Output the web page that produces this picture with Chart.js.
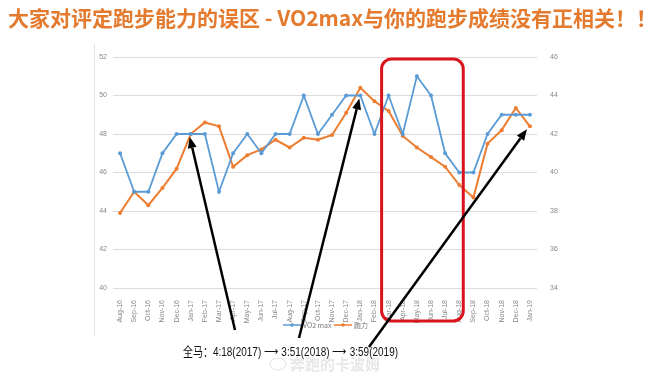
<!DOCTYPE html>
<html>
<head>
<meta charset="utf-8">
<script src="https://cdn.jsdelivr.net/npm/chart.js@4/dist/chart.umd.min.js"></script>
<style>
  html, body { margin: 0; padding: 0; background: #fff; }
  #wrap { width: 672px; height: 378px; }
</style>
</head>
<body>
<div id="wrap"><canvas id="c" width="672" height="378"></canvas></div>
<script>
const months = ['Aug-16','Sep-16','Oct-16','Nov-16','Dec-16','Jan-17','Feb-17','Mar-17','Apr-17','May-17','Jun-17','Jul-17','Aug-17','Sep-17','Oct-17','Nov-17','Dec-17','Jan-18','Feb-18','Mar-18','Apr-18','May-18','Jun-18','Jul-18','Aug-18','Sep-18','Oct-18','Nov-18','Dec-18','Jan-19'];
const vo2max = [47,45,45,47,48,48,48,45,47,48,47,48,48,50,48,49,50,50,48,50,48,51,50,47,46,46,48,49,49,49];
const paoli = [37.9,39.0,38.3,39.2,40.2,42.0,42.6,42.4,40.3,40.9,41.2,41.7,41.3,41.8,41.7,41.95,43.1,44.4,43.7,43.2,41.9,41.3,40.8,40.3,39.35,38.7,41.5,42.2,43.35,42.4];
const leftTicks = [40, 42, 44, 46, 48, 50, 52];
const rightTicks = [34, 36, 38, 40, 42, 44, 46];

const titleText = '大家对评定跑步能力的误区 - VO2max与你的跑步成绩没有正相关！！';
const noteText = '全马：4:18(2017) ⟶ 3:51(2018) ⟶ 3:59(2019)';

const BLUE = '#5b9bd5';
const ORANGE = '#ed7d31';

function arrow(ctx, x1, y1, x2, y2) {
  const a = Math.atan2(y2 - y1, x2 - x1);
  const len = 11, w = 4.5;
  const bx = x2 - len * Math.cos(a), by = y2 - len * Math.sin(a);
  ctx.beginPath();
  ctx.moveTo(x1, y1);
  ctx.lineTo(bx, by);
  ctx.lineWidth = 2.5;
  ctx.strokeStyle = '#000';
  ctx.stroke();
  ctx.beginPath();
  ctx.moveTo(x2, y2);
  ctx.lineTo(bx + w * Math.sin(a), by - w * Math.cos(a));
  ctx.lineTo(bx - w * Math.sin(a), by + w * Math.cos(a));
  ctx.closePath();
  ctx.fillStyle = '#000';
  ctx.fill();
}

const extras = {
  id: 'extras',
  beforeDraw(chart) {
    const ctx = chart.ctx;
    ctx.save();
    ctx.fillStyle = '#fff';
    ctx.fillRect(0, 0, chart.width, chart.height);
    ctx.strokeStyle = '#e3e3e3';
    ctx.lineWidth = 1;
    ctx.beginPath();
    ctx.moveTo(94.5, 44);
    ctx.lineTo(94.5, 336);
    ctx.stroke();
    ctx.restore();
  },
  afterDraw(chart) {
    const ctx = chart.ctx;
    const x = chart.scales.x, yl = chart.scales.y, yr = chart.scales.y1;
    ctx.save();

    // title
    ctx.fillStyle = '#e47a2e';
    ctx.font = 'bold 21px "Noto Sans CJK SC", sans-serif';
    ctx.textBaseline = 'middle';
    ctx.textAlign = 'left';
    ctx.fillText(titleText, 8, 18, 657);

    // legend
    ctx.font = '7px "Noto Sans CJK SC", sans-serif';
    ctx.textBaseline = 'middle';
    const ly = 325;
    [[BLUE, 'VO2 max', 283], [ORANGE, '跑力', 334]].forEach(([col, txt, lx]) => {
      ctx.strokeStyle = col;
      ctx.lineWidth = 1.5;
      ctx.beginPath(); ctx.moveTo(lx, ly); ctx.lineTo(lx + 18, ly); ctx.stroke();
      ctx.fillStyle = col;
      ctx.beginPath(); ctx.arc(lx + 9, ly, 1.8, 0, Math.PI * 2); ctx.fill();
      ctx.fillStyle = '#777';
      ctx.fillText(txt, lx + 20, ly);
    });

    // red highlight box around Mar-18 .. Aug-18
    const rx1 = x.getPixelForValue(19) - 7, rx2 = x.getPixelForValue(24) + 4;
    const ry1 = 59, ry2 = 321;
    ctx.strokeStyle = '#d9141c';
    ctx.lineWidth = 3;
    ctx.beginPath();
    ctx.roundRect(rx1, ry1, rx2 - rx1, ry2 - ry1, 10);
    ctx.stroke();

    // arrows to marathon points
    arrow(ctx, 235, 330, x.getPixelForValue(5) - 1, yr.getPixelForValue(paoli[5]) + 3);
    arrow(ctx, 299, 338, x.getPixelForValue(17) - 1, yl.getPixelForValue(vo2max[17]) + 3);
    arrow(ctx, 369, 347, x.getPixelForValue(29) - 3, yr.getPixelForValue(paoli[29]) + 3);

    // watermark
    ctx.fillStyle = 'rgba(170,170,170,0.28)';
    ctx.font = 'bold 15px "Noto Sans CJK SC", sans-serif';
    ctx.fillText('奔跑的卡波姆', 290, 364, 110);
    ctx.strokeStyle = 'rgba(170,170,170,0.35)';
    ctx.lineWidth = 1;
    ctx.beginPath(); ctx.ellipse(278, 364, 8, 6, 0, 0, Math.PI * 2); ctx.stroke();

    // note
    ctx.fillStyle = '#111';
    ctx.font = '13px "Liberation Sans", "Noto Sans CJK SC", sans-serif';
    ctx.textAlign = 'left';
    ctx.fillText(noteText, 183, 352, 215);
    ctx.restore();
  }
};

new Chart(document.getElementById('c'), {
  type: 'line',
  data: {
    labels: months,
    datasets: [
      {
        label: 'VO2 max',
        data: vo2max,
        yAxisID: 'y',
        borderColor: BLUE,
        backgroundColor: BLUE,
        borderWidth: 1.8,
        pointRadius: 2,
        pointBorderWidth: 0,
        tension: 0
      },
      {
        label: '跑力',
        data: paoli,
        yAxisID: 'y1',
        borderColor: ORANGE,
        backgroundColor: ORANGE,
        borderWidth: 2,
        pointRadius: 2,
        pointBorderWidth: 0,
        tension: 0
      }
    ]
  },
  options: {
    responsive: false,
    animation: false,
    layout: { padding: { left: 95, right: 112, top: 57, bottom: 48 } },
    plugins: {
      legend: { display: false },
      tooltip: { enabled: false }
    },
    scales: {
      x: {
        offset: true,
        grid: { display: false, offset: true },
        border: { display: false },
        ticks: {
          autoSkip: false,
          minRotation: 90,
          maxRotation: 90,
          padding: 4,
          color: '#888',
          font: { size: 7, family: 'Liberation Sans' }
        },
        afterFit(s) { s.height = 42; }
      },
      y: {
        position: 'left',
        min: 40, max: 52,
        afterBuildTicks(s) { s.ticks = leftTicks.map(v => ({ value: v })); },
        grid: { color: '#dcdcdc', drawTicks: false },
        border: { display: false },
        ticks: { color: '#888', padding: 6, font: { size: 7, family: 'Liberation Sans' } },
        afterFit(s) { s.width = 18; }
      },
      y1: {
        position: 'right',
        min: 34, max: 46,
        afterBuildTicks(s) { s.ticks = rightTicks.map(v => ({ value: v })); },
        grid: { display: false },
        border: { display: false },
        ticks: { color: '#888', padding: 5, font: { size: 7, family: 'Liberation Sans' } },
        afterFit(s) { s.width = 23; }
      }
    }
  },
  plugins: [extras]
});
</script>
</body>
</html>
